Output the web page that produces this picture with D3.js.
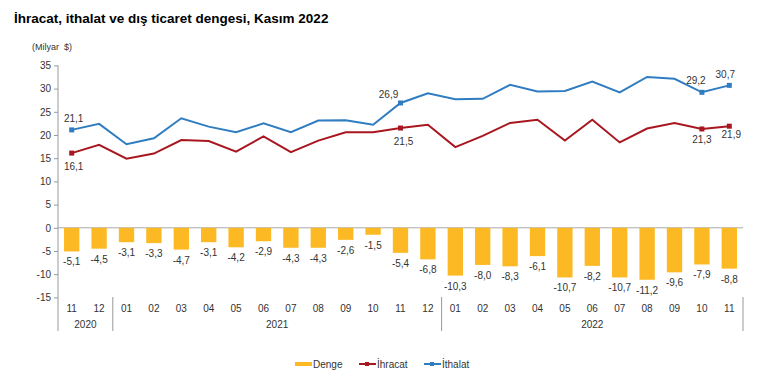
<!DOCTYPE html>
<html><head><meta charset="utf-8">
<script src="https://cdn.jsdelivr.net/npm/d3@7"></script>
<style>body{margin:0;background:#fff;}svg{display:block;font-family:"Liberation Sans",Arial,sans-serif;}</style>
</head><body><svg id="c" width="760" height="382"></svg>
<script>
const months = ["11","12","01","02","03","04","05","06","07","08","09","10","11","12","01","02","03","04","05","06","07","08","09","10","11"];
const years = [{label:"2020",from:0,to:1},{label:"2021",from:2,to:13},{label:"2022",from:14,to:24}];
const denge = [-5.1,-4.5,-3.1,-3.3,-4.7,-3.1,-4.2,-2.9,-4.3,-4.3,-2.6,-1.5,-5.4,-6.8,-10.3,-8.0,-8.3,-6.1,-10.7,-8.2,-10.7,-11.2,-9.6,-7.9,-8.8];
const ihracat = [16.1,17.9,14.9,16.0,18.9,18.7,16.4,19.7,16.3,18.8,20.6,20.6,21.5,22.2,17.4,19.8,22.6,23.3,18.8,23.3,18.4,21.4,22.6,21.3,21.9];
const ithalat = [21.1,22.4,18.0,19.3,23.6,21.8,20.6,22.5,20.6,23.1,23.2,22.2,26.9,29.0,27.7,27.8,30.8,29.4,29.5,31.5,29.2,32.5,32.1,29.2,30.7];
const yTicks = [35,30,25,20,15,10,5,0,-5,-10,-15];
const labeledIdx = [0,12,23,24];
const fmt = v => String(v.toFixed(1)).replace(".", ",");

const svg = d3.select("#c");
const left = 58, right = 743;
const x = d3.scaleBand().domain(d3.range(months.length)).range([left, right]).paddingInner(0.44).paddingOuter(0.22);
const xc = i => x(i) + x.bandwidth()/2;
const y = d3.scaleLinear().domain([-15, 35]).range([297.4, 65.4]);

// title
svg.append("text").attr("x", 14).attr("y", 23).attr("font-size", 13.5).attr("font-weight", "bold").attr("fill", "#000")
  .text("İhracat, ithalat ve dış ticaret dengesi, Kasım 2022");
svg.append("text").attr("x", 32).attr("y", 50).attr("font-size", 9).attr("fill", "#333").attr("xml:space","preserve").text("(Milyar  $)");

// y axis
const yAxis = d3.axisLeft(y).tickValues(yTicks).tickSize(4).tickFormat(d => d);
const gy = svg.append("g").attr("transform", `translate(${left},0)`).call(yAxis);
gy.select(".domain").remove();
gy.selectAll(".tick line").attr("stroke", "#999");
gy.selectAll(".tick text").attr("font-size", 10).attr("fill", "#333").attr("x", -7).style("font-family","'Liberation Sans',Arial,sans-serif");
svg.append("line").attr("x1", left).attr("x2", left).attr("y1", y(35)).attr("y2", 331).attr("stroke", "#999");

// zero line
svg.append("line").attr("x1", left).attr("x2", right).attr("y1", y(0)).attr("y2", y(0)).attr("stroke", "#aaa");

// bars
svg.append("g").selectAll("rect").data(denge).join("rect")
  .attr("x", (d,i) => x(i)).attr("width", x.bandwidth())
  .attr("y", y(0)).attr("height", d => y(d) - y(0))
  .attr("fill", "#FDB924");
svg.append("g").selectAll("text").data(denge).join("text")
  .attr("x", (d,i) => xc(i)).attr("y", d => y(d) + 14)
  .attr("text-anchor", "middle").attr("font-size", 10).attr("fill", "#333").text(fmt);

// lines
const line = d3.line().x((d,i) => xc(i)).y(d => y(d));
svg.append("path").datum(ithalat).attr("d", line).attr("fill", "none").attr("stroke", "#2F7DC0").attr("stroke-width", 2);
svg.append("path").datum(ihracat).attr("d", line).attr("fill", "none").attr("stroke", "#A8171F").attr("stroke-width", 2);
svg.append("g").selectAll("rect").data(labeledIdx).join("rect")
  .attr("x", i => xc(i)-2.5).attr("y", i => y(ithalat[i])-2.5).attr("width",5).attr("height",5).attr("fill","#2F7DC0");
svg.append("g").selectAll("rect").data(labeledIdx).join("rect")
  .attr("x", i => xc(i)-2.5).attr("y", i => y(ihracat[i])-2.5).attr("width",5).attr("height",5).attr("fill","#A8171F");
const ithOff = [[2,-8],[-12,-5],[-6,-8],[-4,-7]];
const ihrOff = [[2,17],[3,17],[0,14],[2,12]];
labeledIdx.forEach((i,k) => {
  svg.append("text").attr("x", xc(i)+ithOff[k][0]).attr("y", y(ithalat[i])+ithOff[k][1]).attr("text-anchor","middle")
    .attr("font-size",10).attr("fill","#333").text(fmt(ithalat[i]));
  svg.append("text").attr("x", xc(i)+ihrOff[k][0]).attr("y", y(ihracat[i])+ihrOff[k][1]).attr("text-anchor","middle")
    .attr("font-size",10).attr("fill","#333").text(fmt(ihracat[i]));
});

// x categories
svg.append("g").selectAll("text").data(months).join("text")
  .attr("x", (d,i) => xc(i)).attr("y", 312).attr("text-anchor","middle").attr("font-size",10).attr("fill","#333").text(d => d);
const step = x.step();
years.forEach(yr => {
  const x0 = x(yr.from) - x.paddingInner()*step/2;
  svg.append("text").attr("x", (xc(yr.from)+xc(yr.to))/2).attr("y", 328).attr("text-anchor","middle")
    .attr("font-size",10).attr("fill","#333").text(yr.label);
  if (yr.from > 0) svg.append("line").attr("x1", x0).attr("x2", x0).attr("y1", 297).attr("y2", 331).attr("stroke","#999");
});
svg.append("line").attr("x1", right).attr("x2", right).attr("y1", 297).attr("y2", 331).attr("stroke","#999");

// legend
const lg = svg.append("g").attr("font-size", 10).attr("fill", "#333");
lg.append("rect").attr("x",295).attr("y",362).attr("width",17).attr("height",4).attr("fill","#FDB924");
lg.append("text").attr("x",313).attr("y",368).text("Denge");
lg.append("line").attr("x1",359).attr("x2",376).attr("y1",364).attr("y2",364).attr("stroke","#A8171F").attr("stroke-width",2);
lg.append("rect").attr("x",365).attr("y",362).attr("width",4).attr("height",4).attr("fill","#A8171F");
lg.append("text").attr("x",377).attr("y",368).text("İhracat");
lg.append("line").attr("x1",424).attr("x2",441).attr("y1",364).attr("y2",364).attr("stroke","#2F7DC0").attr("stroke-width",2);
lg.append("rect").attr("x",430).attr("y",362).attr("width",4).attr("height",4).attr("fill","#2F7DC0");
lg.append("text").attr("x",442).attr("y",368).text("İthalat");
</script></body></html>
